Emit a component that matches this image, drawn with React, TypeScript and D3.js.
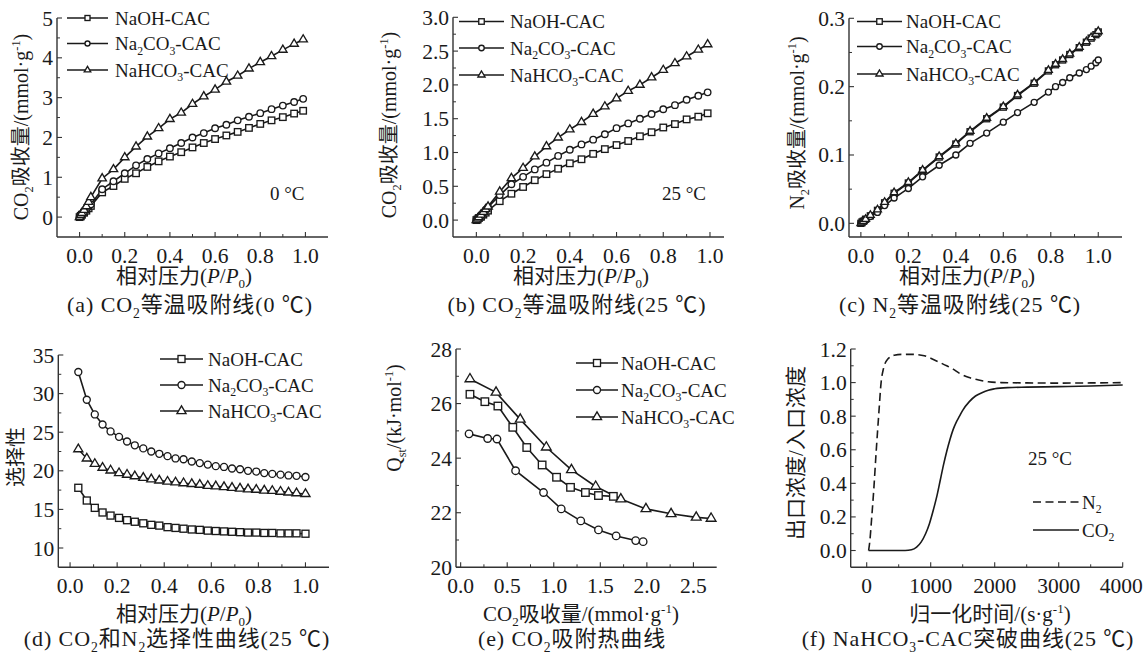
import React from 'react';
import * as d3 from 'd3';

// ---------------- DATA ----------------
const SERIES_NAMES = ['NaOH-CAC', 'Na2CO3-CAC', 'NaHCO3-CAC'];
const MARKERS = ['square', 'circle', 'triangle'];

// (a) CO2 isotherm 0 °C
const PA_X = [0, 0.005, 0.01, 0.02, 0.03, 0.04, 0.05, 0.1, 0.15, 0.2, 0.25, 0.3, 0.35, 0.4, 0.45, 0.5, 0.55, 0.6, 0.65, 0.7, 0.75, 0.8, 0.85, 0.9, 0.95, 0.99];
const PA_NAOH = [0, 0.03, 0.06, 0.11, 0.16, 0.22, 0.28, 0.62, 0.78, 0.96, 1.1, 1.26, 1.4, 1.52, 1.63, 1.75, 1.86, 1.96, 2.05, 2.14, 2.24, 2.34, 2.43, 2.51, 2.6, 2.67];
const PA_NA2CO3 = [0, 0.04, 0.08, 0.14, 0.2, 0.26, 0.32, 0.7, 0.9, 1.1, 1.3, 1.46, 1.6, 1.73, 1.86, 2.0, 2.11, 2.23, 2.32, 2.43, 2.52, 2.61, 2.71, 2.8, 2.89, 2.97];
const PA_NAHCO3 = [0, 0.05, 0.1, 0.18, 0.27, 0.38, 0.5, 0.97, 1.2, 1.5, 1.77, 2.02, 2.23, 2.46, 2.62, 2.84, 3.03, 3.2, 3.4, 3.55, 3.73, 3.89, 4.04, 4.2, 4.35, 4.46];

// (b) CO2 isotherm 25 °C
const PB_X = [0, 0.005, 0.01, 0.02, 0.03, 0.04, 0.05, 0.1, 0.15, 0.2, 0.25, 0.3, 0.35, 0.4, 0.45, 0.5, 0.55, 0.6, 0.65, 0.7, 0.75, 0.8, 0.85, 0.9, 0.95, 0.99];
const PB_NAOH = [0, 0.01, 0.03, 0.05, 0.08, 0.11, 0.14, 0.28, 0.39, 0.49, 0.59, 0.68, 0.76, 0.84, 0.9, 0.98, 1.05, 1.11, 1.17, 1.24, 1.3, 1.37, 1.42, 1.49, 1.53, 1.58];
const PB_NA2CO3 = [0, 0.02, 0.04, 0.07, 0.11, 0.15, 0.19, 0.37, 0.53, 0.64, 0.75, 0.85, 0.95, 1.04, 1.12, 1.19, 1.27, 1.36, 1.43, 1.5, 1.57, 1.64, 1.7, 1.78, 1.84, 1.89];
const PB_NAHCO3 = [0, 0.02, 0.04, 0.08, 0.12, 0.16, 0.2, 0.42, 0.62, 0.77, 0.94, 1.09, 1.22, 1.34, 1.45, 1.57, 1.68, 1.8, 1.91, 2.0, 2.11, 2.22, 2.32, 2.42, 2.52, 2.6];

// (c) N2 isotherm 25 °C
const PC_X = [0, 0.005, 0.01, 0.02, 0.04, 0.07, 0.1, 0.14, 0.2, 0.26, 0.33, 0.4, 0.46, 0.53, 0.6, 0.66, 0.73, 0.79, 0.82, 0.85, 0.88, 0.92, 0.95, 0.97, 0.99, 1.0];
const PC_NAOH = [0, 0.002, 0.003, 0.006, 0.011, 0.019, 0.03, 0.044, 0.059, 0.077, 0.097, 0.116, 0.134, 0.153, 0.17, 0.187, 0.205, 0.223, 0.232, 0.239, 0.247, 0.257, 0.265, 0.271, 0.276, 0.28];
const PC_NA2CO3 = [0, 0.001, 0.003, 0.005, 0.01, 0.016, 0.026, 0.037, 0.051, 0.068, 0.085, 0.1, 0.117, 0.132, 0.148, 0.162, 0.177, 0.192, 0.2, 0.206, 0.213, 0.22, 0.225, 0.23, 0.235, 0.239];
const PC_NAHCO3 = [0, 0.002, 0.003, 0.006, 0.012, 0.02, 0.031, 0.045, 0.06, 0.078, 0.098, 0.117, 0.135, 0.154, 0.171, 0.188, 0.206, 0.224, 0.233, 0.24, 0.248, 0.258, 0.266, 0.272, 0.277, 0.281];

// (d) selectivity
const PD_X = [0.035, 0.071, 0.105, 0.138, 0.172, 0.208, 0.242, 0.275, 0.311, 0.345, 0.379, 0.414, 0.448, 0.482, 0.517, 0.551, 0.585, 0.619, 0.654, 0.688, 0.722, 0.756, 0.791, 0.825, 0.859, 0.894, 0.928, 0.962, 1.0];
const PD_NAOH = [17.8, 16.15, 15.2, 14.6, 14.2, 13.9, 13.6, 13.4, 13.2, 13.0, 12.9, 12.7, 12.6, 12.5, 12.4, 12.35, 12.25, 12.2, 12.15, 12.1, 12.05, 12.0, 12.0, 11.95, 11.95, 11.9, 11.9, 11.9, 11.85];
const PD_NA2CO3 = [32.8, 29.2, 27.3, 26.0, 25.1, 24.4, 23.8, 23.3, 22.9, 22.5, 22.2, 21.9, 21.6, 21.5, 21.2, 21.0, 20.8, 20.6, 20.5, 20.3, 20.2, 20.0, 19.9, 19.7, 19.6, 19.5, 19.4, 19.35, 19.2];
const PD_NAHCO3 = [22.8, 21.6, 20.9, 20.4, 20.05, 19.7, 19.5, 19.3, 19.1, 18.9, 18.75, 18.6, 18.5, 18.4, 18.3, 18.2, 18.05, 18.0, 17.9, 17.8, 17.7, 17.6, 17.55, 17.45, 17.4, 17.3, 17.2, 17.1, 17.0];

// (e) isosteric heat
const PE_NAOH_X = [0.1, 0.26, 0.4, 0.56, 0.71, 0.875, 1.03, 1.18, 1.34, 1.48, 1.64];
const PE_NAOH_Y = [26.34, 26.07, 25.91, 25.13, 24.39, 23.75, 23.3, 22.93, 22.74, 22.63, 22.6];
const PE_NA2CO3_X = [0.09, 0.29, 0.39, 0.59, 0.89, 1.08, 1.29, 1.48, 1.67, 1.88, 1.96];
const PE_NA2CO3_Y = [24.89, 24.72, 24.7, 23.54, 22.74, 22.14, 21.7, 21.37, 21.15, 20.98, 20.94];
const PE_NAHCO3_X = [0.1, 0.38, 0.64, 0.92, 1.19, 1.45, 1.72, 1.99, 2.26, 2.53, 2.69];
const PE_NAHCO3_Y = [26.9, 26.41, 25.42, 24.4, 23.57, 22.96, 22.5, 22.14, 21.96, 21.83, 21.79];

// (f) breakthrough curves
const PF_N2_T = [30, 50, 75, 110, 150, 190, 225, 260, 330, 430, 550, 720, 900, 1000, 1140, 1250, 1350, 1450, 1600, 1750, 1900, 2100, 2500, 3000, 3500, 4000];
const PF_N2_C = [0, 0.06, 0.18, 0.36, 0.6, 0.82, 1.0, 1.08, 1.14, 1.163, 1.168, 1.168, 1.16, 1.145, 1.12, 1.1, 1.08, 1.055, 1.03, 1.015, 1.005, 1.0, 0.998, 0.997, 0.998, 1.0];
const PF_CO2_T = [30, 600, 700, 780, 850, 920, 980, 1040, 1100, 1150, 1200, 1250, 1300, 1350, 1400, 1450, 1500, 1600, 1700, 1800, 1900, 2000, 2200, 2500, 3000, 3500, 4000];
const PF_CO2_C = [0, 0, 0.004, 0.02, 0.05, 0.1, 0.16, 0.24, 0.33, 0.42, 0.51, 0.59, 0.66, 0.72, 0.765, 0.8, 0.835, 0.885, 0.92, 0.94, 0.955, 0.963, 0.97, 0.973, 0.976, 0.98, 0.986];

// tick labels
const TK_PRESS = [0, 0.2, 0.4, 0.6, 0.8, 1.0];
const TK_A_Y = [0, 1, 2, 3, 4, 5];
const TK_B_Y = [0, 0.5, 1.0, 1.5, 2.0, 2.5, 3.0];
const TK_C_Y = [0, 0.1, 0.2, 0.3];
const TK_D_Y = [10, 15, 20, 25, 30, 35];
const TK_E_X = [0, 0.5, 1.0, 1.5, 2.0, 2.5];
const TK_E_Y = [20, 22, 24, 26, 28];
const TK_F_X = [0, 1000, 2000, 3000, 4000];
const TK_F_Y = [0, 0.2, 0.4, 0.6, 0.8, 1.0, 1.2];

// ---------------- RENDERING ----------------
const FONT = "'Liberation Serif', 'Noto Sans CJK SC', serif";
const INK = '#1a1a1a';
const AX = '#333';

type Seg = [string, string?];

function Rich({ segs, fs }: { segs: Seg[]; fs: number }) {
  let shift = 0;
  return (
    <>
      {segs.map(([t, k = 'n'], i) => {
        const small = k === 'sub' || k === 'sup';
        const target = k === 'sub' ? fs * 0.26 : k === 'sup' ? -fs * 0.38 : 0;
        const dy = target - shift;
        shift = target;
        return (
          <tspan key={i} dy={dy} fontSize={small ? fs * 0.62 : fs} fontStyle={k === 'i' ? 'italic' : undefined}>
            {t}
          </tspan>
        );
      })}
    </>
  );
}

function chem(s: string): Seg[] {
  const out: Seg[] = [];
  const re = /([A-Za-z])(\d+)/g;
  let last = 0;
  let m;
  while ((m = re.exec(s))) {
    out.push([s.slice(last, m.index + 1), 'n']);
    out.push([m[2], 'sub']);
    last = m.index + m[0].length;
  }
  out.push([s.slice(last), 'n']);
  return out;
}

function Marker({ type, x, y, s }: { type: string; x: number; y: number; s: number }) {
  const common = { fill: '#fff', stroke: INK, strokeWidth: 1.35 };
  if (type === 'square') return <rect x={x - s / 2} y={y - s / 2} width={s} height={s} {...common} />;
  if (type === 'circle') return <circle cx={x} cy={y} r={s / 2} {...common} />;
  const w = s * 1.3;
  const h = s * 1.1;
  const pts = `${x},${y - (2 * h) / 3} ${x - w / 2},${y + h / 3} ${x + w / 2},${y + h / 3}`;
  return <polygon points={pts} {...common} strokeLinejoin="miter" />;
}

type Series = { x: number[]; y: number[]; marker?: string; dash?: string };
type LegendItem = { label: string; marker?: string; dash?: string };

type PanelProps = {
  x0: number; x1: number; yb: number; yt: number;
  xd: [number, number]; yd: [number, number];
  xTicks: number[]; yTicks: number[];
  xFmt: (v: number) => string; yFmt: (v: number) => string;
  series: Series[];
  ms: number;
  smooth?: boolean;
  legend: { lx1: number; lx2: number; tx: number; ys: number[]; ms: number; items: LegendItem[] };
};

function Panel(p: PanelProps) {
  const xs = d3.scaleLinear().domain(p.xd).range([p.x0, p.x1]);
  const ys = d3.scaleLinear().domain(p.yd).range([p.yb, p.yt]);
  const line = d3
    .line<[number, number]>()
    .x((d) => xs(d[0]))
    .y((d) => ys(d[1]))
    .curve(p.smooth ? d3.curveMonotoneX : d3.curveLinear);
  const mids = (t: number[]) => t.slice(1).map((v, i) => (v + t[i]) / 2);
  const tickFs = 21.5;
  const legFs = 19;
  return (
    <g>
      {p.series.map((s, i) => (
        <path
          key={'l' + i}
          d={line(s.x.map((v, j) => [v, s.y[j]] as [number, number])) || ''}
          fill="none"
          stroke={INK}
          strokeWidth={1.6}
          strokeDasharray={s.dash}
        />
      ))}
      {p.series.map((s, i) =>
        s.marker
          ? s.x.map((v, j) => <Marker key={'m' + i + '-' + j} type={s.marker!} x={xs(v)} y={ys(s.y[j])} s={p.ms} />)
          : null
      )}
      {/* axes */}
      <line x1={p.x0} x2={p.x0} y1={p.yb} y2={p.yt} stroke={AX} strokeWidth={1.4} />
      <line x1={p.x0} x2={p.x1} y1={p.yb} y2={p.yb} stroke={AX} strokeWidth={1.4} />
      {p.xTicks.map((v) => (
        <line key={'xt' + v} x1={xs(v)} x2={xs(v)} y1={p.yb} y2={p.yb - 5} stroke={AX} strokeWidth={1.1} />
      ))}
      {mids(p.xTicks).map((v) => (
        <line key={'xm' + v} x1={xs(v)} x2={xs(v)} y1={p.yb} y2={p.yb - 3} stroke={AX} strokeWidth={1} />
      ))}
      {p.yTicks.map((v) => (
        <line key={'yt' + v} x1={p.x0} x2={p.x0 + 5} y1={ys(v)} y2={ys(v)} stroke={AX} strokeWidth={1.1} />
      ))}
      {mids(p.yTicks).map((v) => (
        <line key={'ym' + v} x1={p.x0} x2={p.x0 + 3} y1={ys(v)} y2={ys(v)} stroke={AX} strokeWidth={1} />
      ))}
      {p.xTicks.map((v, i) => (
        <text
          key={'xl' + v}
          x={xs(v)}
          y={p.yb + 26}
          textAnchor={i === p.xTicks.length - 1 && xs(v) > 1110 ? 'end' : 'middle'}
          dx={i === p.xTicks.length - 1 && xs(v) > 1110 ? 20 : 0}
          fontSize={tickFs}
          fill={INK}
        >
          {p.xFmt(v)}
        </text>
      ))}
      {p.yTicks.map((v) => (
        <text key={'yl' + v} x={p.x0 - 4} y={ys(v) + 7.5} textAnchor="end" fontSize={tickFs} fill={INK}>
          {p.yFmt(v)}
        </text>
      ))}
      {/* legend */}
      {p.legend.items.map((it, i) => {
        const y = p.legend.ys[i];
        return (
          <g key={'lg' + i}>
            <line x1={p.legend.lx1} x2={p.legend.lx2} y1={y} y2={y} stroke={INK} strokeWidth={1.6} strokeDasharray={it.dash} />
            {it.marker ? <Marker type={it.marker} x={(p.legend.lx1 + p.legend.lx2) / 2} y={y} s={p.legend.ms} /> : null}
            <text x={p.legend.tx} y={y + 6.5} fontSize={legFs} fill={INK}>
              <Rich segs={chem(it.label)} fs={legFs} />
            </text>
          </g>
        );
      })}
    </g>
  );
}

const f1 = (v: number) => v.toFixed(1);
const f0 = (v: number) => String(v);

const legendItems: LegendItem[] = SERIES_NAMES.map((n, i) => ({ label: n, marker: MARKERS[i] }));

function YTitle({ x, y, segs, fs = 20 }: { x: number; y: number; segs: Seg[]; fs?: number }) {
  return (
    <text transform={`translate(${x},${y}) rotate(-90)`} textAnchor="middle" fontSize={fs} fill={INK}>
      <Rich segs={segs} fs={fs} />
    </text>
  );
}

function HText({ x, y, segs, fs = 21, ls = 0 }: { x: number; y: number; segs: Seg[]; fs?: number; ls?: number }) {
  return (
    <text x={x} y={y} textAnchor="middle" fontSize={fs} fill={INK} letterSpacing={ls}>
      <Rich segs={segs} fs={fs} />
    </text>
  );
}

function Caption({ x, y, segs }: { x: number; y: number; segs: Seg[] }) {
  return <HText x={x} y={y} segs={segs} fs={22} ls={0.9} />;
}

const PRESS_TITLE: Seg[] = [['相对压力('], ['P', 'i'], ['/'], ['P', 'i'], ['0', 'sub'], [')']];
const CO2_UPTAKE: Seg[] = [['CO'], ['2', 'sub'], ['吸收量/(mmol·g'], ['-1', 'sup'], [')']];

export default function App() {
  return (
    <div style={{ position: 'absolute', left: 0, top: 0 }}>
      <svg width={1143} height={654} fontFamily={FONT} style={{ display: 'block', background: '#fff' }}>
        <rect width={1143} height={654} fill="#fff" />

        {/* (a) */}
        <Panel
          x0={57} x1={328} yb={237} yt={18}
          xd={[-0.1, 1.1]} yd={[-0.5, 5]}
          xTicks={TK_PRESS} yTicks={TK_A_Y} xFmt={f1} yFmt={f0}
          ms={6.5}
          series={[
            { x: PA_X, y: PA_NAOH, marker: 'square' },
            { x: PA_X, y: PA_NA2CO3, marker: 'circle' },
            { x: PA_X, y: PA_NAHCO3, marker: 'triangle' },
          ]}
          legend={{ lx1: 67, lx2: 108, tx: 115, ys: [18, 43.5, 70], ms: 5, items: legendItems }}
        />
        <text x={270} y={200} fontSize={19} fill={INK}>0 °C</text>
        <YTitle x={28} y={127} segs={CO2_UPTAKE} />
        <HText x={184} y={283} segs={PRESS_TITLE} />
        <Caption x={190} y={312} segs={[['(a) CO'], ['2', 'sub'], ['等温吸附线(0 ℃)']]} />

        {/* (b) */}
        <Panel
          x0={453} x1={724} yb={237} yt={17.3}
          xd={[-0.1, 1.06]} yd={[-0.25, 3.0]}
          xTicks={TK_PRESS} yTicks={TK_B_Y} xFmt={f1} yFmt={f1}
          ms={6.5}
          series={[
            { x: PB_X, y: PB_NAOH, marker: 'square' },
            { x: PB_X, y: PB_NA2CO3, marker: 'circle' },
            { x: PB_X, y: PB_NAHCO3, marker: 'triangle' },
          ]}
          legend={{ lx1: 459, lx2: 504, tx: 510, ys: [21.5, 48, 75], ms: 5.5, items: legendItems }}
        />
        <text x={662} y={200} fontSize={19} fill={INK}>25 °C</text>
        <YTitle x={396} y={125} segs={CO2_UPTAKE} />
        <HText x={581} y={283} segs={PRESS_TITLE} />
        <Caption x={577} y={312} segs={[['(b) CO'], ['2', 'sub'], ['等温吸附线(25 ℃)']]} />

        {/* (c) */}
        <Panel
          x0={849} x1={1122} yb={237} yt={18.3}
          xd={[-0.05, 1.1]} yd={[-0.02, 0.3]}
          xTicks={TK_PRESS} yTicks={TK_C_Y} xFmt={f1} yFmt={f1}
          ms={6}
          series={[
            { x: PC_X, y: PC_NAOH, marker: 'square' },
            { x: PC_X, y: PC_NA2CO3, marker: 'circle' },
            { x: PC_X, y: PC_NAHCO3, marker: 'triangle' },
          ]}
          legend={{ lx1: 857, lx2: 902, tx: 906, ys: [21.5, 46.5, 74], ms: 5.5, items: legendItems }}
        />
        <YTitle x={804} y={123} segs={[['N'], ['2', 'sub'], ['吸收量/(mmol·g'], ['-1', 'sup'], [')']]} />
        <HText x={967} y={283} segs={PRESS_TITLE} />
        <Caption x={960} y={312} segs={[['(c) N'], ['2', 'sub'], ['等温吸附线(25 ℃)']]} />

        {/* (d) */}
        <Panel
          x0={58.3} x1={329} yb={567.3} yt={355}
          xd={[-0.05, 1.1]} yd={[7.5, 35]}
          xTicks={TK_PRESS} yTicks={TK_D_Y} xFmt={f1} yFmt={f0}
          ms={7}
          series={[
            { x: PD_X, y: PD_NAOH, marker: 'square' },
            { x: PD_X, y: PD_NA2CO3, marker: 'circle' },
            { x: PD_X, y: PD_NAHCO3, marker: 'triangle' },
          ]}
          legend={{ lx1: 160, lx2: 203, tx: 208, ys: [359, 385, 411], ms: 7, items: legendItems }}
        />
        <YTitle x={23} y={457} segs={[['选择性']]} />
        <HText x={184} y={621} segs={PRESS_TITLE} />
        <Caption x={177} y={646} segs={[['(d) CO'], ['2', 'sub'], ['和N'], ['2', 'sub'], ['选择性曲线(25 ℃)']]} />

        {/* (e) */}
        <Panel
          x0={456} x1={716.7} yb={567.3} yt={349}
          xd={[-0.05, 2.75]} yd={[20, 28]}
          xTicks={TK_E_X} yTicks={TK_E_Y} xFmt={f1} yFmt={f0}
          ms={7.5}
          series={[
            { x: PE_NAOH_X, y: PE_NAOH_Y, marker: 'square' },
            { x: PE_NA2CO3_X, y: PE_NA2CO3_Y, marker: 'circle' },
            { x: PE_NAHCO3_X, y: PE_NAHCO3_Y, marker: 'triangle' },
          ]}
          legend={{ lx1: 576, lx2: 618, tx: 621, ys: [363, 390, 417], ms: 7, items: legendItems }}
        />
        <YTitle x={401} y={418} segs={[['Q'], ['st', 'sub'], ['/(kJ·mol'], ['-1', 'sup'], [')']]} />
        <HText x={581} y={621} segs={CO2_UPTAKE} />
        <Caption x={572} y={646} segs={[['(e) CO'], ['2', 'sub'], ['吸附热曲线']]} />

        {/* (f) */}
        <Panel
          x0={850.7} x1={1122.7} yb={567.3} yt={349}
          xd={[-250, 4000]} yd={[-0.1, 1.2]}
          xTicks={TK_F_X} yTicks={TK_F_Y} xFmt={f0} yFmt={f1}
          ms={0}
          smooth
          series={[
            { x: PF_N2_T, y: PF_N2_C, dash: '8,4.5' },
            { x: PF_CO2_T, y: PF_CO2_C },
          ]}
          legend={{
            lx1: 1033, lx2: 1079, tx: 1082, ys: [502, 530], ms: 0,
            items: [
              { label: 'N2', dash: '8,4.5' },
              { label: 'CO2' },
            ],
          }}
        />
        <text x={1028} y={465} fontSize={19} fill={INK}>25 °C</text>
        <YTitle x={803} y={453} segs={[['出口浓度/入口浓度']]} fs={21} />
        <HText x={990} y={621} segs={[['归一化时间/(s·g'], ['-1', 'sup'], [')']]} />
        <Caption x={968} y={646} segs={[['(f) NaHCO'], ['3', 'sub'], ['-CAC突破曲线(25 ℃)']]} />
      </svg>
    </div>
  );
}
